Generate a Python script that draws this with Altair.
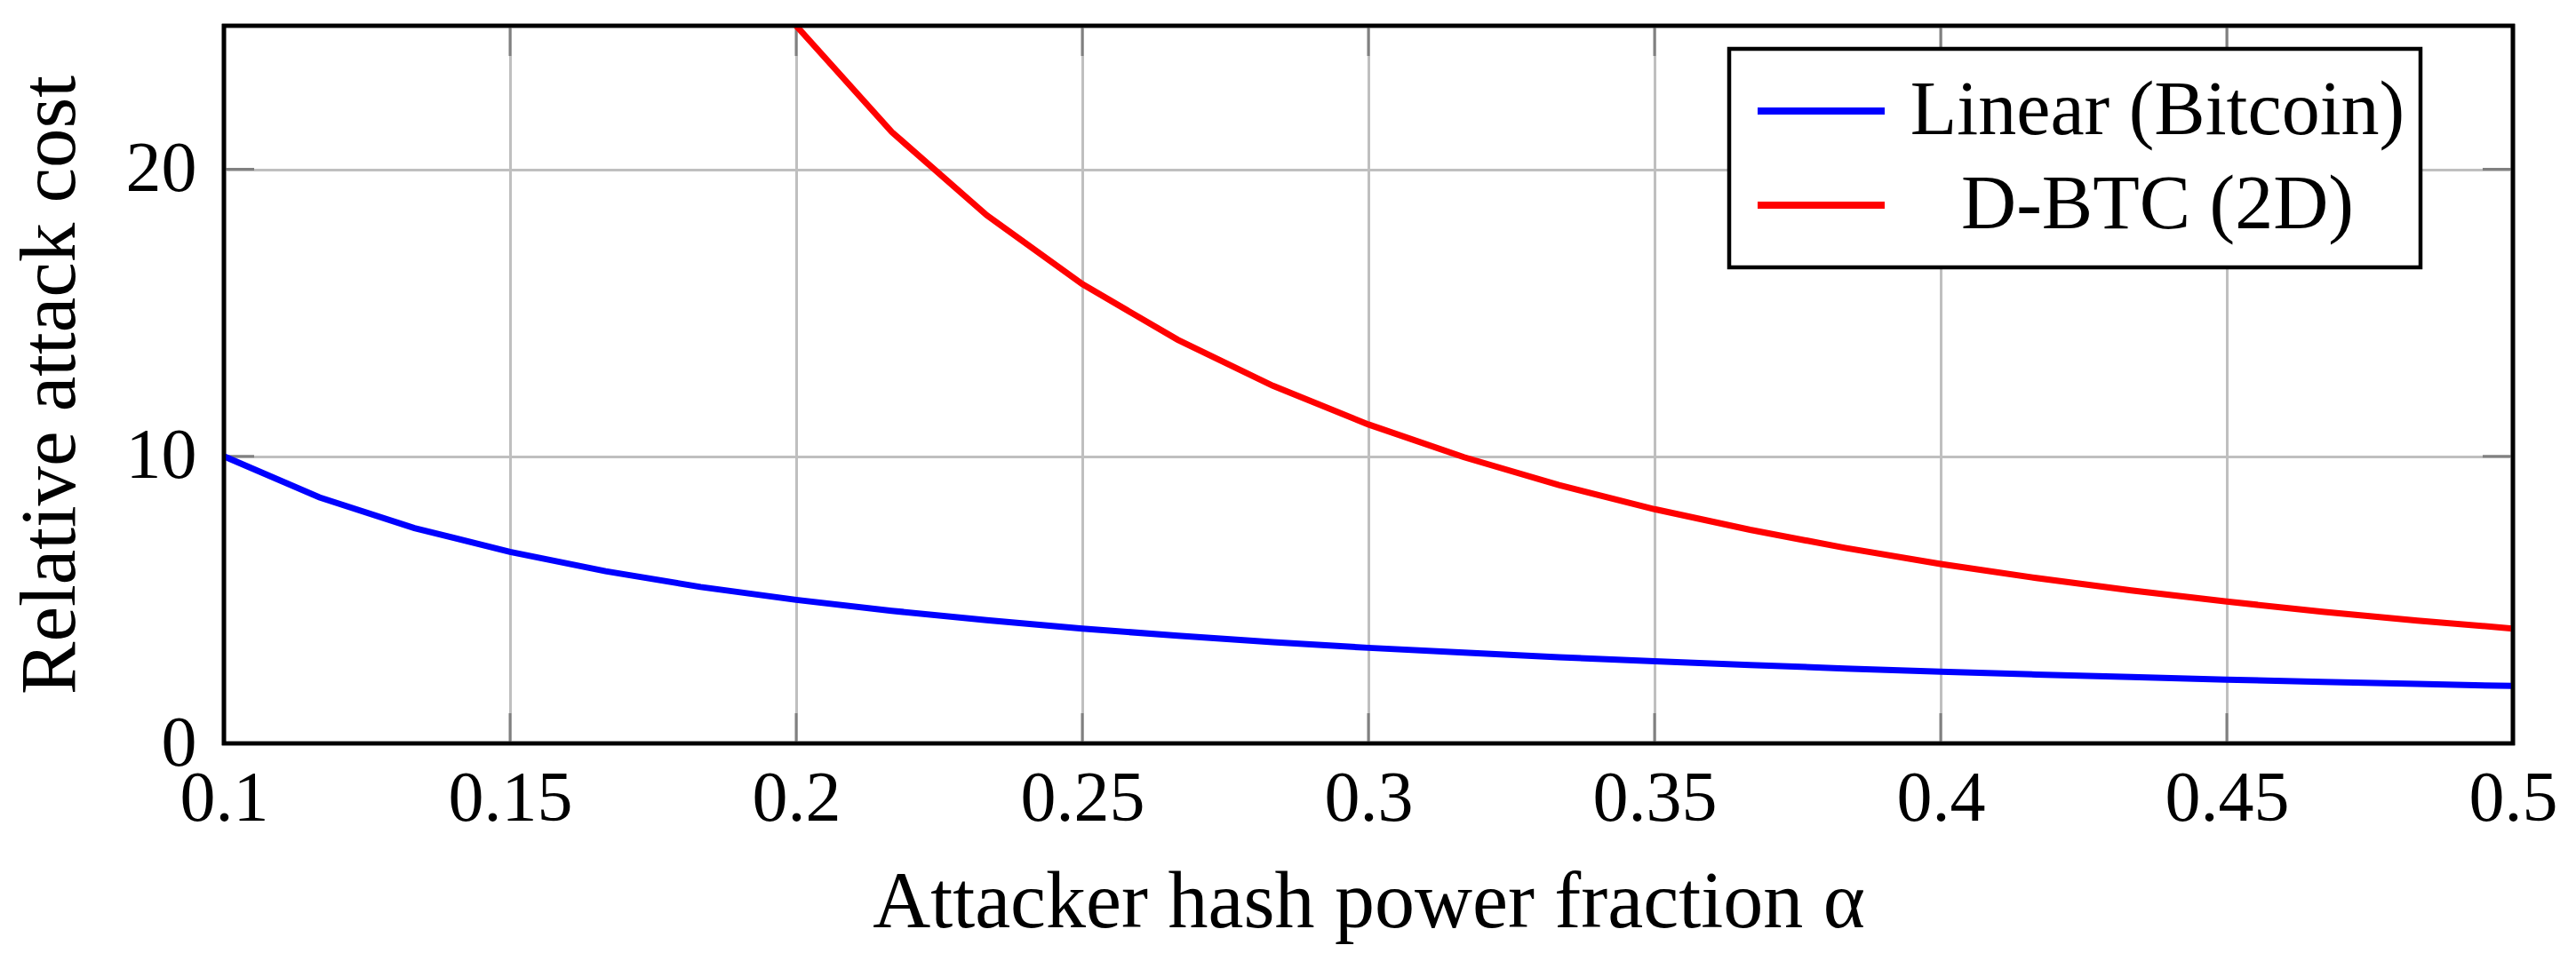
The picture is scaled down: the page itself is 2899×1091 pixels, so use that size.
import pandas as pd
import altair as alt

# attacker hash power fraction (x) and the two cost curves
alpha = [0.1, 0.1167, 0.1333, 0.15, 0.1667, 0.1833, 0.2, 0.2167, 0.2333, 0.25,
         0.2667, 0.2833, 0.3, 0.3167, 0.3333, 0.35, 0.3667, 0.3833, 0.4, 0.4167,
         0.4333, 0.45, 0.4667, 0.4833, 0.5]
linear_cost = [10.0, 8.57, 7.5, 6.67, 6.0, 5.45, 5.0, 4.62, 4.29, 4.0,
               3.75, 3.53, 3.33, 3.16, 3.0, 2.86, 2.73, 2.61, 2.5, 2.4,
               2.31, 2.22, 2.14, 2.07, 2.0]
dbtc_alpha = alpha[6:]
dbtc_cost = [25.0, 21.3, 18.4, 16.0, 14.06, 12.46, 11.11, 9.97, 9.0, 8.16,
             7.44, 6.81, 6.25, 5.76, 5.33, 4.94, 4.59, 4.28, 4.0]

series_names = ['Linear (Bitcoin)', 'D-BTC (2D)']
series_colors = ['#0000ff', '#ff0000']

x_ticks = [0.1, 0.15, 0.2, 0.25, 0.3, 0.35, 0.4, 0.45, 0.5]
y_ticks = [0, 10, 20]

W, H = 2576, 808
FONT = 'Liberation Serif'
TICK_LEN = 34

data = pd.concat([
    pd.DataFrame({'alpha': alpha, 'cost': linear_cost, 'series': series_names[0]}),
    pd.DataFrame({'alpha': dbtc_alpha, 'cost': dbtc_cost, 'series': series_names[1]}),
])
xt = pd.DataFrame({'t': x_ticks})
yt = pd.DataFrame({'t': y_ticks})

x_scale = alt.Scale(domain=[0.1, 0.5], nice=False, zero=False)
y_scale = alt.Scale(domain=[0, 25], nice=False)

lines = alt.Chart(data).mark_line(strokeWidth=7, clip=True).encode(
    x=alt.X('alpha:Q', scale=x_scale, axis=alt.Axis(
        title='Attacker hash power fraction α', values=x_ticks, format='.2~f',
        grid=True, gridColor='#bfbfbf', gridWidth=3, ticks=False, domain=False,
        labelFont=FONT, labelFontSize=80, labelColor='black', labelPadding=86,
        labelBaseline='alphabetic', labelFlush=False, labelOverlap=False, labelBound=False,
        titleFont=FONT, titleFontSize=90, titleFontWeight='normal', titleColor='black',
        titleY=206, titleBaseline='alphabetic')),
    y=alt.Y('cost:Q', scale=y_scale, axis=alt.Axis(
        title='Relative attack cost', values=y_ticks,
        grid=True, gridColor='#bfbfbf', gridWidth=3, ticks=False, domain=False,
        labelFont=FONT, labelFontSize=80, labelColor='black', labelPadding=31,
        labelOverlap=False, labelFlush=False, labelBound=False,
        titleFont=FONT, titleFontSize=89, titleFontWeight='normal', titleColor='black',
        titleX=-169, titleY=H / 2, titleBaseline='alphabetic', titleAlign='center')),
    color=alt.Color('series:N', sort=series_names,
                    scale=alt.Scale(domain=series_names, range=series_colors),
                    legend=alt.Legend(
                        title=None, orient='none', legendX=1694, legendY=26,
                        symbolType='stroke', symbolSize=143 * 143, symbolStrokeWidth=8,
                        symbolOffset=11,
                        labelFont=FONT, labelFontSize=86, labelColor='black',
                        labelAlign='center', labelOffset=303, labelLimit=1000,
                        padding=17, rowPadding=0, clipHeight=106,
                        strokeColor='black', fillColor='white')),
)

# pgfplots-style inner tick marks on all four sides
tick_color = '#808080'
x_bottom = alt.Chart(xt).mark_rule(color=tick_color, strokeWidth=3).encode(
    x=alt.X('t:Q', scale=x_scale), y=alt.value(H - TICK_LEN), y2=alt.value(H))
x_top = alt.Chart(xt).mark_rule(color=tick_color, strokeWidth=3).encode(
    x=alt.X('t:Q', scale=x_scale), y=alt.value(0), y2=alt.value(TICK_LEN))
y_left = alt.Chart(yt).mark_rule(color=tick_color, strokeWidth=3).encode(
    y=alt.Y('t:Q', scale=y_scale), x=alt.value(0), x2=alt.value(TICK_LEN))
y_right = alt.Chart(yt).mark_rule(color=tick_color, strokeWidth=3).encode(
    y=alt.Y('t:Q', scale=y_scale), x=alt.value(W - TICK_LEN), x2=alt.value(W))

# black axis box drawn over the curves
frame = alt.Chart(pd.DataFrame({'t': [0]})).mark_rect(
    fill=None, fillOpacity=0, stroke='black', strokeWidth=4.6
).encode(x=alt.value(0), x2=alt.value(W), y=alt.value(0), y2=alt.value(H))

chart = alt.layer(x_bottom, x_top, y_left, y_right, lines, frame).properties(
    width=W,
    height=H,
    autosize=alt.AutoSizeParams(type='none'),
    padding={'left': 244, 'top': 21, 'right': 62, 'bottom': 240},
).configure(
    font=FONT, background='white'
).configure_view(
    stroke='black', strokeWidth=4.6
).configure_legend(
    strokeWidth=4.5, cornerRadius=0
)

chart.save("out.html", embed_options={"renderer": "svg", "actions": False})
